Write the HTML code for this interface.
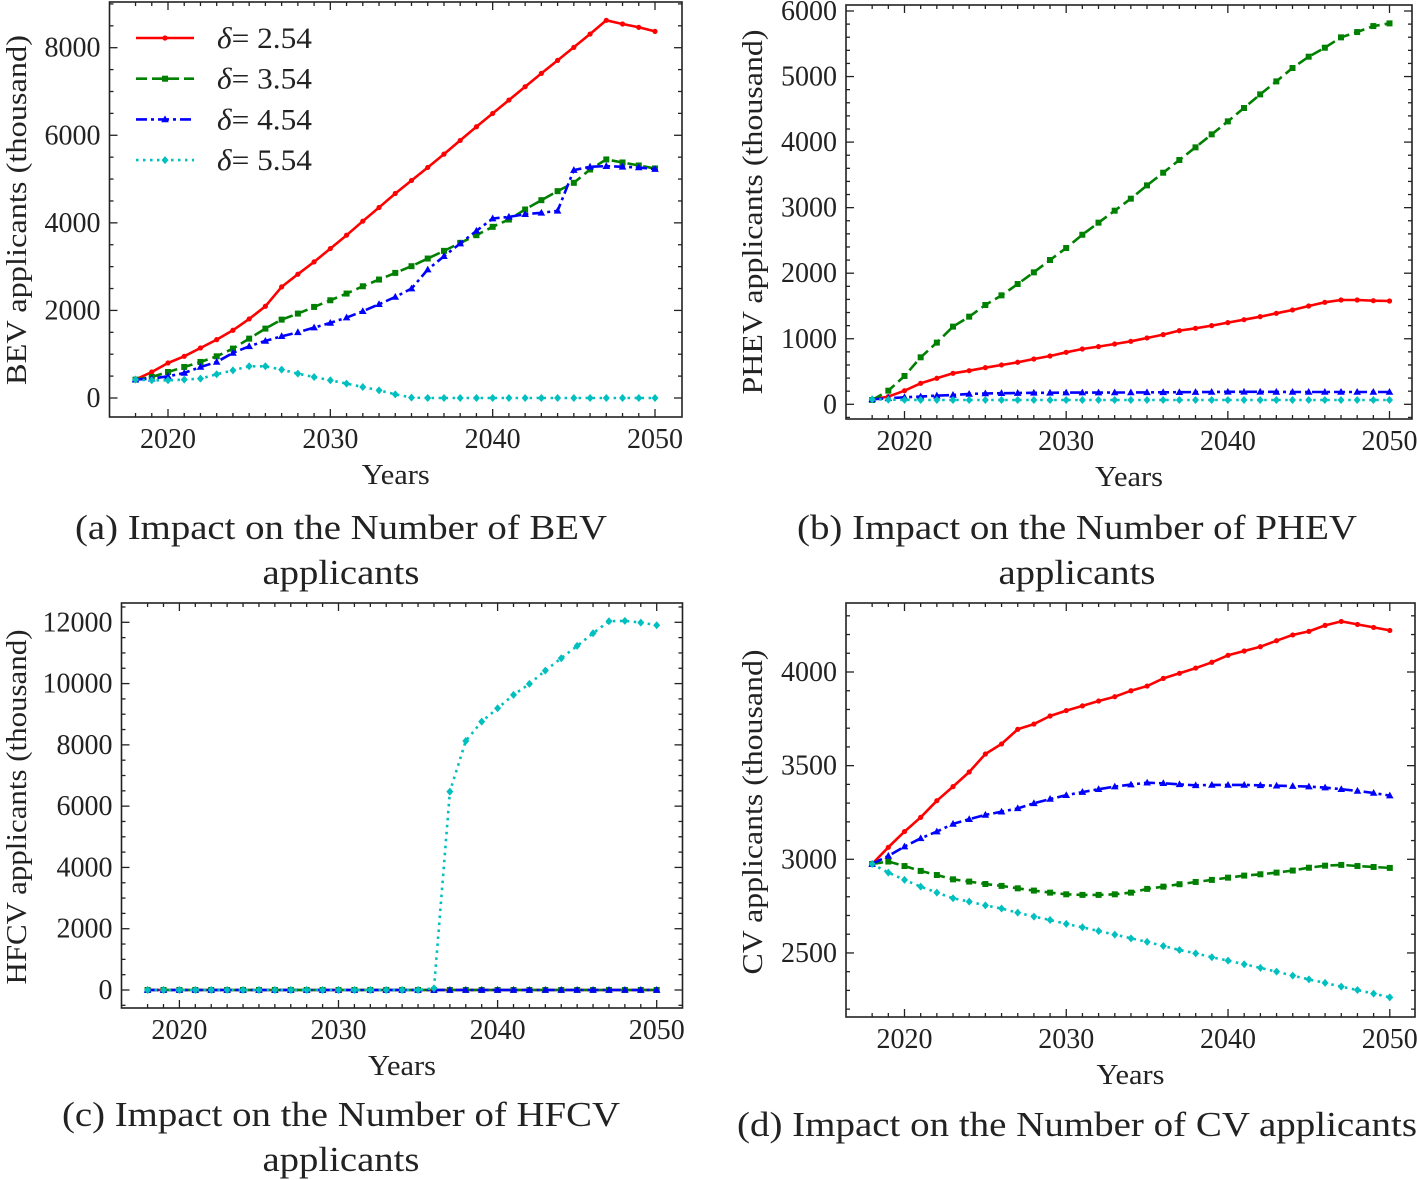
<!DOCTYPE html>
<html><head><meta charset="utf-8"><style>
html,body{margin:0;padding:0;background:#fff;}
svg{display:block;}
text{font-family:"Liberation Serif","DejaVu Serif",serif;fill:#222;}
</style></head><body>
<svg id="fig" width="1417" height="1180" viewBox="0 0 1417 1180" xmlns="http://www.w3.org/2000/svg"></svg>
<script>
const years = [];
for (let y = 2018; y <= 2050; y++) years.push(y);
const bevRed = [420,594,800,952,1143,1333,1547,1806,2095,2537,2827,3109,3413,3718,4038,4350,4670,4968,5265,5570,5882,6194,6499,6804,7109,7413,7710,8008,8312,8625,8541,8465,8373];
const bevGreen = [420,480,594,709,823,952,1128,1356,1585,1790,1928,2080,2232,2385,2552,2705,2857,3010,3185,3360,3543,3718,3909,4076,4305,4518,4724,4914,5219,5448,5379,5310,5242];
const bevBlue = [420,442,495,571,709,823,1029,1181,1303,1410,1501,1608,1714,1836,1981,2141,2309,2499,2933,3238,3528,3817,4099,4137,4198,4229,4274,5204,5280,5295,5280,5265,5227];
const bevCyan = [420,404,404,420,442,541,632,724,724,648,556,480,404,328,251,175,84,8,0,0,0,0,0,0,0,0,0,0,0,0,0,0,0];
const phevRed = [76,117,208,320,397,473,513,559,600,641,691,737,793,844,880,920,961,1012,1063,1124,1159,1200,1246,1291,1337,1388,1439,1500,1556,1591,1591,1581,1576];
const phevGreen = [66,208,432,717,941,1185,1337,1515,1662,1835,2013,2201,2384,2587,2771,2954,3137,3340,3533,3727,3920,4118,4316,4520,4728,4926,5130,5303,5440,5598,5679,5770,5811];
const phevBlue = [76,92,107,117,132,142,158,165,170,172,175,176,178,178,178,180,180,182,183,184,186,188,190,190,190,189,188,188,188,188,188,188,188];
const phevCyan = [76,70,68,66,66,66,66,66,66,66,66,66,66,66,66,66,66,66,66,66,66,66,66,66,66,66,66,66,66,66,66,66,66];
const hfcvRed = [0,0,0,0,0,0,0,0,0,0,0,0,0,0,0,0,0,0,0,0,0,0,0,0,0,0,0,0,0,0,0,0,0];
const hfcvGreen = [0,0,0,0,0,0,0,0,0,0,0,0,0,0,0,0,0,0,0,0,0,0,0,0,0,0,0,0,0,0,0,0,0];
const hfcvBlue = [0,0,0,0,0,0,0,0,0,0,0,0,0,0,0,0,0,0,0,0,0,0,0,0,0,0,0,0,0,0,0,0,0];
const hfcvCyan = [0,0,0,0,0,0,0,0,0,0,0,0,0,0,0,0,0,0,54,6474,8128,8759,9194,9630,9989,10424,10827,11230,11643,12035,12046,11991,11904];
const cvRed = [2975,3064,3148,3224,3313,3388,3466,3562,3616,3694,3722,3765,3794,3819,3845,3868,3900,3925,3966,3993,4021,4052,4089,4112,4135,4167,4198,4217,4249,4270,4254,4238,4222];
const cvBlue = [2975,3018,3068,3112,3148,3189,3214,3237,3254,3272,3299,3322,3342,3359,3374,3388,3399,3409,3406,3400,3395,3397,3397,3397,3395,3393,3391,3388,3383,3374,3365,3354,3340];
const cvGreen = [2975,2988,2964,2938,2916,2893,2881,2868,2858,2845,2833,2822,2813,2810,2810,2813,2822,2842,2854,2867,2879,2890,2902,2913,2920,2929,2940,2955,2966,2970,2964,2959,2954];
const cvCyan = [2975,2929,2890,2854,2822,2792,2774,2754,2737,2715,2694,2676,2655,2637,2617,2598,2578,2559,2537,2516,2498,2477,2459,2440,2420,2400,2379,2359,2340,2320,2302,2283,2263];
const xTickLabels = [2020,2030,2040,2050];
const bevYTicks = [0,2000,4000,6000,8000];
const phevYTicks = [0,1000,2000,3000,4000,5000,6000];
const hfcvYTicks = [0,2000,4000,6000,8000,10000,12000];
const cvYTicks = [2500,3000,3500,4000];
const legendLabels = ["2.54","3.54","4.54","5.54"];

const NS = "http://www.w3.org/2000/svg";
const svg = document.getElementById('fig');
function mk(tag, attrs, parent) {
  const e = document.createElementNS(NS, tag);
  for (const k in attrs) e.setAttribute(k, attrs[k]);
  (parent || svg).appendChild(e);
  return e;
}
const styles = [
  {c:'#ff0000', dash:'', m:'circle'},
  {c:'#008000', dash:'11,5', m:'square'},
  {c:'#0000ff', dash:'11,4,3,4', m:'tri'},
  {c:'#00bfbf', dash:'2.5,4.5', m:'diamond'}
];
function marker(g, type, x, y, c) {
  let e;
  if (type === 'circle') e = mk('circle', {cx:x, cy:y, r:2.6, fill:c}, g);
  else if (type === 'square') e = mk('rect', {x:x-3, y:y-3, width:6, height:6, fill:c}, g);
  else if (type === 'tri') e = mk('polygon', {points:`${x},${y-4} ${x-3.8},${y+2.8} ${x+3.8},${y+2.8}`, fill:c}, g);
  else e = mk('polygon', {points:`${x},${y-4} ${x+3.5},${y} ${x},${y+4} ${x-3.5},${y}`, fill:c}, g);
  
  
}
function panel(p) {
  const g = mk('g', {});
  
  
  const X = v => p.x2020 + (v - 2020) * (p.x2050 - p.x2020) / 30;
  const Y = v => p.yA + (v - p.vA) * (p.yB - p.yA) / (p.vB - p.vA);
  const tk = mk('g', {stroke:'#222', 'stroke-width':1.3}, g);
  
  
  for (let yr = 2018; yr <= 2050; yr++) {
    const len = (yr % 10 === 0) ? 8 : 4;
    const x = X(yr);
    mk('line', {x1:x, y1:p.bottom, x2:x, y2:p.bottom-len}, tk);
    mk('line', {x1:x, y1:p.top, x2:x, y2:p.top+len}, tk);
  }
  const vmin = p.vA + (p.bottom - p.yA) * (p.vB - p.vA) / (p.yB - p.yA);
  const vmax = p.vA + (p.top - p.yA) * (p.vB - p.vA) / (p.yB - p.yA);
  for (let v = Math.ceil(vmin / p.minor) * p.minor; v <= vmax; v += p.minor) {
    const y = Y(v);
    const major = Math.abs(v / p.major - Math.round(v / p.major)) < 1e-6;
    const len = major ? 8 : 4;
    mk('line', {x1:p.left, y1:y, x2:p.left+len, y2:y}, tk);
    mk('line', {x1:p.right, y1:y, x2:p.right-len, y2:y}, tk);
  }
  p.series.forEach((s, i) => {
    const st = styles[i];
    const sg = mk('g', {}, g);
    
    
    const pts = years.map((yr, j) => X(yr).toFixed(1) + ',' + Y(s[j]).toFixed(1)).join(' ');
    const pl = mk('polyline', {points:pts, fill:'none', stroke:st.c, 'stroke-width':2.6, 'stroke-dasharray':st.dash, 'stroke-linejoin':'round'}, sg);
    
    
    years.forEach((yr, j) => marker(sg, st.m, X(yr), Y(s[j]), st.c));
  });
  const fr = mk('rect', {x:p.left, y:p.top, width:p.right-p.left, height:p.bottom-p.top, fill:'none', stroke:'#222', 'stroke-width':1.6}, g);
  
  
  xTickLabels.forEach(v => {
    const t = mk('text', {x:X(v), y:p.bottom+31, 'text-anchor':'middle', 'font-size':28}, g);
    t.textContent = v;
    
    
  });
  p.yTicks.forEach(v => {
    const t = mk('text', {x:p.left-9, y:Y(v)+9, 'text-anchor':'end', 'font-size':28}, g);
    t.textContent = v;
    
    
  });
  const xt = mk('text', {x:(p.left+p.right)/2, y:p.bottom+67, 'text-anchor':'middle', 'font-size':29, textLength:68, lengthAdjust:'spacingAndGlyphs'}, g);
  xt.textContent = 'Years';
  
  
  const yt = mk('text', {x:0, y:0, 'text-anchor':'middle', 'font-size':29, textLength:p.ylen, lengthAdjust:'spacingAndGlyphs', transform:`translate(${p.ytx},${p.ytc}) rotate(-90)`}, g);
  yt.textContent = p.ytitle;
  
  
  p.caption.forEach((line, k) => {
    const c = mk('text', {x:p.capx, y:p.capy + k*45, 'text-anchor':'middle', 'font-size':35, textLength:p.capLen[k], lengthAdjust:'spacingAndGlyphs'}, g);
    c.textContent = line;
    
    
  });
  return {g, X, Y};
}
const sn = ['delta-2-54','delta-3-54','delta-4-54','delta-5-54'];
panel({name:'panel-a-bev', left:109.5, right:682, top:2, bottom:417, x2020:168, x2050:655,
  vA:0, yA:398, vB:8000, yB:47.7, minor:500, major:2000, yTicks:bevYTicks,
  series:[bevRed,bevGreen,bevBlue,bevCyan], seriesNames:sn, ytx:26, ytc:210, ylen:350, ytitle:'BEV applicants (thousand)',
  caption:['(a) Impact on the Number of BEV','applicants'], capLen:[532,157], capx:341, capy:539});
panel({name:'panel-b-phev', left:846, right:1412, top:5, bottom:419, x2020:904.5, x2050:1389.5,
  vA:0, yA:404.3, vB:6000, yB:11, minor:200, major:1000, yTicks:phevYTicks,
  series:[phevRed,phevGreen,phevBlue,phevCyan], seriesNames:sn, ytx:762, ytc:212, ylen:365, ytitle:'PHEV applicants (thousand)',
  caption:['(b) Impact on the Number of PHEV','applicants'], capLen:[560,157], capx:1077, capy:539});
panel({name:'panel-c-hfcv', left:121.5, right:682.5, top:603, bottom:1008, x2020:179.4, x2050:656.7,
  vA:0, yA:990, vB:12000, yB:622.3, minor:500, major:2000, yTicks:hfcvYTicks,
  series:[hfcvRed,hfcvGreen,hfcvBlue,hfcvCyan], seriesNames:sn, ytx:26, ytc:807, ylen:355, ytitle:'HFCV applicants (thousand)',
  caption:['(c) Impact on the Number of HFCV','applicants'], capLen:[558,157], capx:341, capy:1126});
panel({name:'panel-d-cv', left:846, right:1415, top:603, bottom:1017, x2020:904.5, x2050:1389.8,
  vA:3000, yA:859.3, vB:4000, yB:672, minor:100, major:500, yTicks:cvYTicks,
  series:[cvRed,cvGreen,cvBlue,cvCyan], seriesNames:sn, ytx:762, ytc:812, ylen:325, ytitle:'CV applicants (thousand)',
  caption:['(d) Impact on the Number of CV applicants'], capLen:[680], capx:1077, capy:1136});
const lg = mk('g', {});


legendLabels.forEach((lab, i) => {
  const y = 38 + i * 40.7;
  const st = styles[i];
  const e = mk('g', {}, lg);
  
  
  mk('line', {x1:136, y1:y, x2:194, y2:y, stroke:st.c, 'stroke-width':2.6, 'stroke-dasharray':st.dash}, e);
  marker(e, st.m, 165, y, st.c);
  const t = mk('text', {x:217, y:y+10, 'font-size':30, textLength:95, lengthAdjust:'spacingAndGlyphs'}, e);
  const d = mk('tspan', {'font-style':'italic'}, t);
  d.textContent = 'δ';
  const r = mk('tspan', {}, t);
  r.textContent = '= ' + lab;
});
</script>
</body></html>
